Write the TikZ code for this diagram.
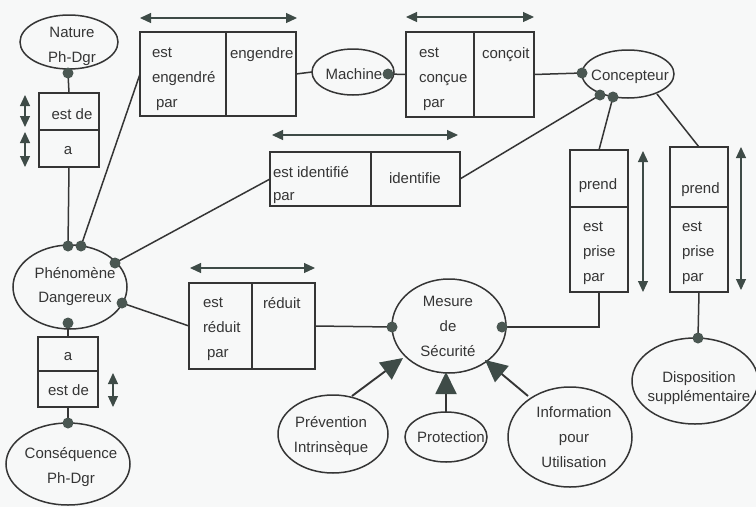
\documentclass[tikz,border=0pt]{standalone}
\usepackage{fontspec}
\setmainfont{Liberation Sans}
\usetikzlibrary{arrows.meta,shapes.geometric}
\definecolor{ink}{HTML}{353535}
\definecolor{dotc}{HTML}{4A5752}
\definecolor{arrc}{HTML}{3E4B47}
\definecolor{bg}{HTML}{F7F8F8}
\begin{document}
\begin{tikzpicture}[x=1pt,y=-1pt,
  every node/.style={inner sep=0pt, outer sep=0pt, text=ink},
  txt/.style={font=\fontsize{15}{25}\selectfont},
  ent/.style={draw=ink, line width=1.5pt, ellipse},
  cell/.style={draw=ink, line width=1.5pt, rectangle},
  lnk/.style={draw=ink, line width=1.5pt},
  dotm/.style={circle, fill=dotc, minimum size=11pt},
  dbl/.style={draw=arrc, line width=1.2pt, {Triangle[length=11pt,width=10pt]}-{Triangle[length=11pt,width=10pt]}},
  isa/.style={draw=ink, line width=1.9pt, -{Triangle[length=22pt,width=21pt,color=arrc]}}
]
\fill[bg] (0,0) rectangle (756,507);
\useasboundingbox (0,0) rectangle (756,507);

% ---------- entities ----------
\node[ent, minimum width=98, minimum height=54] (nat) at (69,42) {};
\node[ent, minimum width=114, minimum height=84] (phe) at (70,287) {};
\node[ent, minimum width=124, minimum height=82] (cons) at (68,464) {};
\node[ent, minimum width=82, minimum height=46] (mach) at (353,72) {};
\node[ent, minimum width=92, minimum height=48] (conc) at (628,74) {};
\node[ent, minimum width=114, minimum height=94] (mes) at (449,326) {};
\node[ent, minimum width=110, minimum height=78] (prev) at (333,434) {};
\node[ent, minimum width=82, minimum height=50] (prot) at (446,437) {};
\node[ent, minimum width=124, minimum height=100] (info) at (570,437) {};
\node[ent, minimum width=126, minimum height=86] (disp) at (695,381) {};

\node[txt, align=center] (nat-t) at (72,46.5) {Nature\\Ph-Dgr};
\node[txt, align=center, font=\fontsize{15}{24}\selectfont] (phe-t) at (75,287) {Phénomène\\Dangereux};
\node[txt, align=center] (cons-t) at (71,467) {Conséquence\\Ph-Dgr};
\node[txt, anchor=base] (mach-t) at (354,79.5) {Machine};
\node[txt, anchor=base] (conc-t) at (630,80.5) {Concepteur};
\node[txt, align=center] (mes-t) at (448,326.5) {Mesure\\de\\Sécurité};
\node[txt, align=center] (prev-t) at (331,436.5) {Prévention\\Intrinsèque};
\node[txt, anchor=base] (prot-t) at (451,442) {Protection};
\node[txt, align=center] (info-t) at (574,437.5) {Information\\pour\\Utilisation};
\node[txt, align=center, font=\fontsize{15}{19}\selectfont] (disp-t) at (699,388.5) {Disposition\\supplémentaire};

% ---------- relation boxes ----------
% Nature / est de / a
\node[cell, minimum width=60, minimum height=37] (nd1) at (69,111.5) {};
\node[cell, minimum width=60, minimum height=37] (nd2) at (69,148.5) {};
\node[txt, anchor=base] (nd1-t) at (72,119) {est de};
\node[txt, anchor=base] (nd2-t) at (68,154) {a};
% engendre
\node[cell, minimum width=86, minimum height=84] (eng1) at (183,74) {};
\node[cell, minimum width=70, minimum height=84] (eng2) at (261,74) {};
\node[txt, align=left, anchor=west] (eng1-t) at (152,79.4) {est\\engendré\\\hspace{4pt}par};
\node[txt, anchor=base west] (eng2-t) at (230,58) {engendre};
% conçoit
\node[cell, minimum width=68, minimum height=85] (con1) at (440,74.5) {};
\node[cell, minimum width=60, minimum height=85] (con2) at (504,74.5) {};
\node[txt, align=left, anchor=west] (con1-t) at (419,79.4) {est\\conçue\\\hspace{4pt}par};
\node[txt, anchor=base west] (con2-t) at (482,58) {conçoit};
% identifie
\node[cell, minimum width=101, minimum height=54] (ide1) at (320.5,179) {};
\node[cell, minimum width=89, minimum height=54] (ide2) at (415.5,179) {};
\node[txt, align=left, anchor=west, font=\fontsize{15}{23}\selectfont] (ide1-t) at (273,185) {est identifié\\par};
\node[txt, anchor=base west] (ide2-t) at (389,183) {identifie};
% réduit
\node[cell, minimum width=63, minimum height=86] (red1) at (220.5,326) {};
\node[cell, minimum width=63, minimum height=86] (red2) at (283.5,326) {};
\node[txt, align=left, anchor=west] (red1-t) at (203,329.4) {est\\réduit\\\hspace{4pt}par};
\node[txt, anchor=base west] (red2-t) at (263,308) {réduit};
% a / est de
\node[cell, minimum width=60, minimum height=34] (ae1) at (68,354) {};
\node[cell, minimum width=60, minimum height=36] (ae2) at (68,389) {};
\node[txt, anchor=base] (ae1-t) at (68,360) {a};
\node[txt, anchor=base] (ae2-t) at (68.5,395) {est de};
% prend 1
\node[cell, minimum width=58, minimum height=57] (pa1) at (599,178.5) {};
\node[cell, minimum width=58, minimum height=85] (pa2) at (599,249.5) {};
\node[txt, anchor=base] (pa1-t) at (598,189) {prend};
\node[txt, align=left, anchor=west] (pa2-t) at (583,253.4) {est\\prise\\par};
% prend 2
\node[cell, minimum width=58, minimum height=60] (pb1) at (699,177) {};
\node[cell, minimum width=58, minimum height=85] (pb2) at (699,249.5) {};
\node[txt, anchor=base] (pb1-t) at (700.5,193) {prend};
\node[txt, align=left, anchor=west] (pb2-t) at (682,253.4) {est\\prise\\par};

% ---------- connection points ----------
\coordinate (natD) at (68,73);
\coordinate (pheA) at (68,246);
\coordinate (pheB) at (81,246);
\coordinate (pheC) at (115,263);
\coordinate (pheE) at (122,303);
\coordinate (pheF) at (68,323);
\coordinate (consD) at (68,423);
\coordinate (machD) at (388,74);
\coordinate (concA) at (582,73);
\coordinate (concB) at (600,95);
\coordinate (concC) at (613,97);
\coordinate (concE) at (657,94);
\coordinate (mesL) at (392,327);
\coordinate (mesR) at (502,327);
\coordinate (dispD) at (698,338);
\coordinate (bend) at (599,327);
\coordinate (prevS) at (352,396);
\coordinate (mesPa) at (403,358);
\coordinate (protS) at (446,412);
\coordinate (mesPb) at (446,372);
\coordinate (infoS) at (528,396);
\coordinate (mesPc) at (485,360);

% ---------- connectors ----------
\draw[lnk] (natD) -- (nd1.north);
\draw[lnk] (nd2.south) -- (pheA);
\draw[lnk] (eng1.west) -- (pheB);
\draw[lnk] (ide1.west) -- (pheC);
\draw[lnk] (pheE) -- (red1.west);
\draw[lnk] (pheF) -- (ae1.north);
\draw[lnk] (ae2.south) -- (consD);
\draw[lnk] (eng2.east) -- (mach.west);
\draw[lnk] (machD) -- (con1.west);
\draw[lnk] (con2.east) -- (concA);
\draw[lnk] (concB) -- (ide2.east);
\draw[lnk] (concC) -- (pa1.north);
\draw[lnk] (concE) -- (pb1.north);
\draw[lnk] (red2.east) -- (mesL);
\draw[lnk] (mesR) -- (bend) -- (pa2.south);
\draw[lnk] (pb2.south) -- (dispD);

\draw[isa] (prevS) -- (mesPa);
\draw[isa] (protS) -- (mesPb);
\draw[isa] (infoS) -- (mesPc);

% dots
\foreach \p in {natD,pheA,pheB,pheC,pheE,pheF,consD,machD,concA,concB,concC,mesL,mesR,dispD}
  \node[dotm] at (\p) {};

% ---------- direction arrows ----------
\coordinate (a1s) at (25,95);   \coordinate (a1e) at (25,127);
\coordinate (a2s) at (25,132);  \coordinate (a2e) at (25,167);
\coordinate (a3s) at (140,18);  \coordinate (a3e) at (297,18);
\coordinate (a4s) at (406,17);  \coordinate (a4e) at (534,17);
\coordinate (a5s) at (272,135); \coordinate (a5e) at (458,135);
\coordinate (a6s) at (190,268); \coordinate (a6e) at (315,268);
\coordinate (a7s) at (113,373); \coordinate (a7e) at (113,407);
\coordinate (a8s) at (643,151); \coordinate (a8e) at (643,292);
\coordinate (a9s) at (741,147); \coordinate (a9e) at (741,290);
\foreach \i in {1,...,9} \draw[dbl] (a\i s) -- (a\i e);
\end{tikzpicture}
\end{document}
